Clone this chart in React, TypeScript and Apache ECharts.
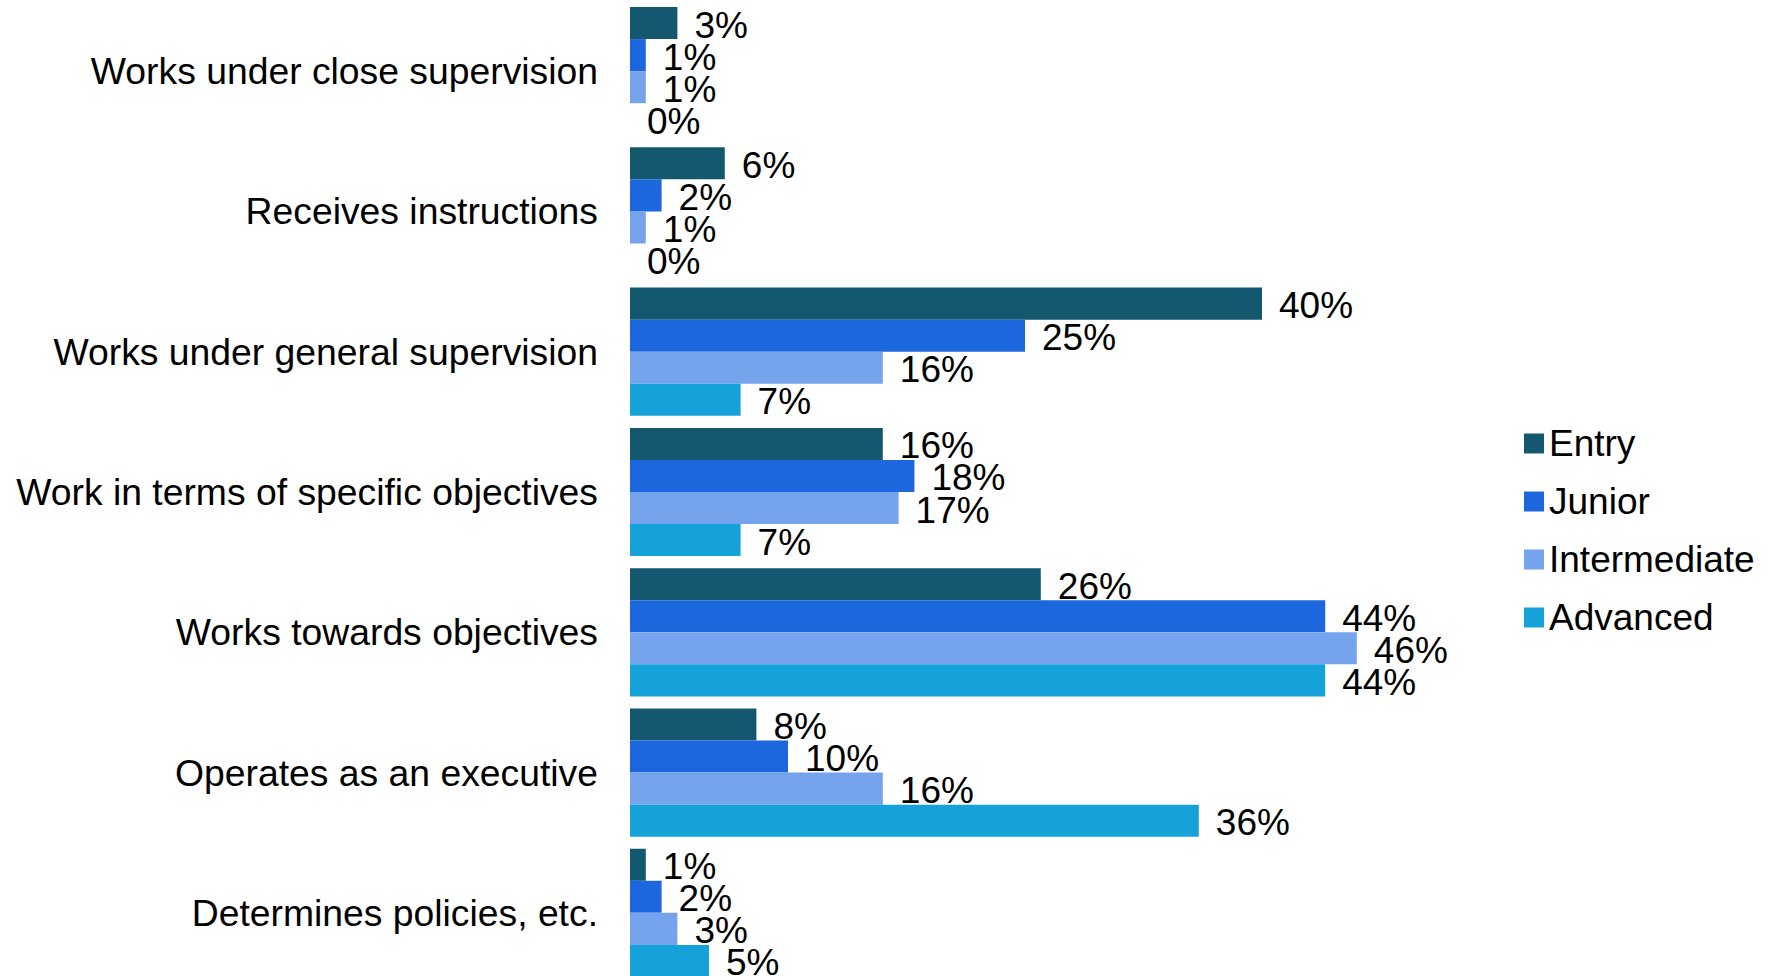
import React, { useEffect, useRef } from "react";
import * as echarts from "echarts";

const categories = [
  "Works under close supervision",
  "Receives instructions",
  "Works under general supervision",
  "Work in terms of specific objectives",
  "Works towards objectives",
  "Operates as an executive",
  "Determines policies, etc.",
];
const seriesNames = ["Entry", "Junior", "Intermediate", "Advanced"];
const entry = [3, 6, 40, 16, 26, 8, 1];
const junior = [1, 2, 25, 18, 44, 10, 2];
const intermediate = [1, 1, 16, 17, 46, 16, 3];
const advanced = [0, 0, 7, 7, 44, 36, 5];
const colors = ["#145870", "#1D67DE", "#75A3EC", "#14A2D8"];

export default function App() {
  const ref = useRef<HTMLDivElement>(null);
  useEffect(() => {
    document.body.style.margin = "0";
    document.body.style.overflow = "hidden";
    const chart = echarts.init(ref.current!, undefined, { renderer: "svg" });
    const font = "Liberation Sans, Arial, sans-serif";
    const data = [entry, junior, intermediate, advanced];
    chart.setOption({
      animation: false,
      textStyle: { fontFamily: font },
      grid: { left: 630, top: 1, width: 948, height: 982, containLabel: false },
      legend: {
        orient: "vertical",
        left: 1519,
        top: 420,
        itemWidth: 20,
        itemHeight: 20,
        itemGap: 21,
        icon: "rect",
        textStyle: { fontSize: 37, color: "#000", fontFamily: font },
        data: seriesNames,
      },
      xAxis: {
        type: "value",
        min: 0,
        max: 60,
        show: false,
      },
      yAxis: {
        type: "category",
        data: categories,
        inverse: true,
        axisLine: { show: false },
        axisTick: { show: false },
        axisLabel: { fontSize: 37.3, color: "#000", margin: 32, fontFamily: font },
      },
      series: seriesNames.map((name, i) => ({
        name,
        type: "bar",
        data: data[i],
        barGap: "0%",
        barCategoryGap: "8.6%",
        itemStyle: { color: colors[i] },
        label: {
          show: true,
          position: "right",
          distance: 17,
          offset: [0, 2],
          formatter: "{c}%",
          fontSize: 37,
          color: "#000",
          fontFamily: font,
        },
      })),
    });
    return () => chart.dispose();
  }, []);
  return <div ref={ref} style={{ width: 1772, height: 1000 }} />;
}
